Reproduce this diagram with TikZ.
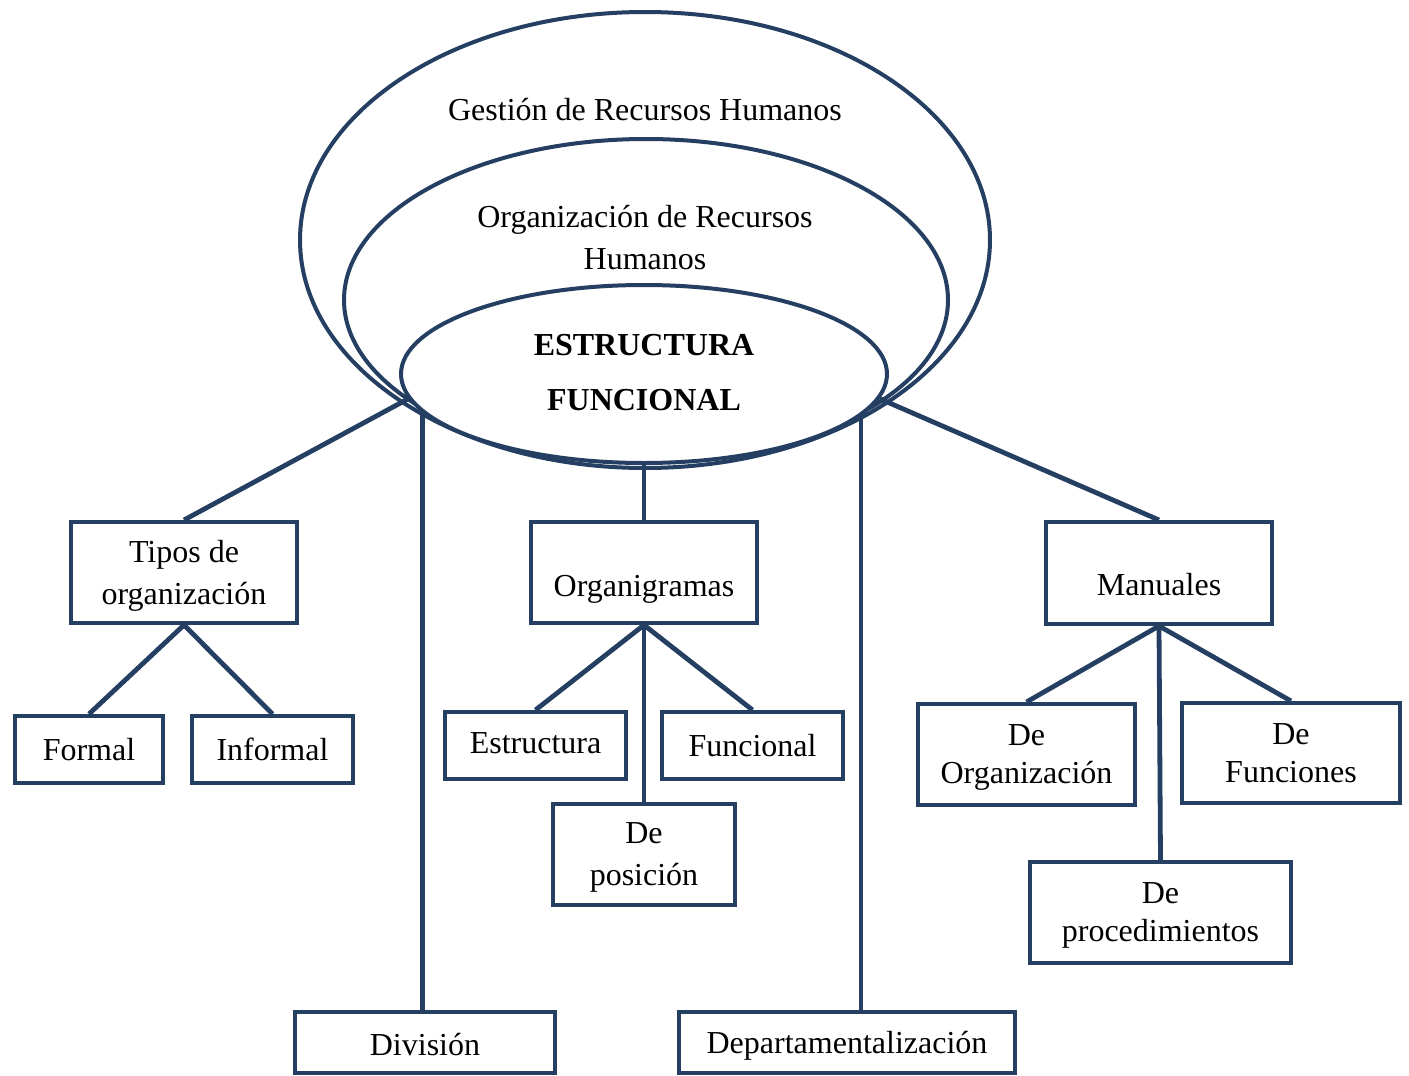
\documentclass[tikz,border=0pt]{standalone}
\usepackage{fontspec}
\setmainfont{Liberation Serif}
\usetikzlibrary{shapes.geometric}
\definecolor{navy}{HTML}{243F62}
\begin{document}
\begin{tikzpicture}[x=0.5pt,y=-0.5pt,
  txt/.style={font=\fontsize{16pt}{21pt}\selectfont, align=center, inner sep=0pt},
  ring/.style={ellipse, draw=navy, line width=2pt, inner sep=0pt, fill=white},
  box/.style={rectangle, draw=navy, line width=2pt, fill=white, inner sep=0pt,
              align=center, text depth=0pt, font=\fontsize{16pt}{21pt}\selectfont},
  tight/.style={font=\fontsize{16pt}{19pt}\selectfont},
  link/.style={draw=navy, line width=2.4pt}]
\useasboundingbox (0,0) rectangle (1409,1076);

% nested ellipses
\node[ring, minimum width=345pt, minimum height=228pt] (gest) at (645,240) {};
\node[ring, minimum width=302pt, minimum height=161pt] (orgrh) at (646,300) {};
\node[ring, minimum width=243pt, minimum height=89pt, align=center,
      font=\fontsize{16pt}{27.5pt}\selectfont\bfseries] (core) at (644,374)
      {\raisebox{1.5pt}{ESTRUCTURA}\\\raisebox{1.5pt}{FUNCIONAL}};
\node[txt] (gestlbl) at (645,110) {Gestión de Recursos Humanos};
\node[txt] (orglbl) at (645,238) {Organización de Recursos\\Humanos};

% boxes
\node[box, minimum width=113pt, minimum height=50.5pt] (tipos) at (184,572.5) {Tipos de\\organización};
\node[box, minimum width=74pt, minimum height=33.5pt] (formal) at (89,749.5) {Formal};
\node[box, minimum width=80.5pt, minimum height=33.5pt] (informal) at (272.5,749.5) {Informal};

\node[box, minimum width=113pt, minimum height=50.5pt] (organi) at (644,572.5) {\raisebox{-6.5pt}[\height][\depth]{Organigramas}};
\node[box, minimum width=90.5pt, minimum height=33.5pt] (estr) at (535.5,745.5) {\raisebox{1pt}[\height][\depth]{Estructura}};
\node[box, minimum width=90.5pt, minimum height=33.5pt] (func) at (752.5,745.5) {Funcional};
\node[box, minimum width=91pt, minimum height=50.5pt] (posic) at (644,854.5) {De\\posición};

\node[box, minimum width=113pt, minimum height=51pt] (manu) at (1159,573) {\raisebox{-5.5pt}[\height][\depth]{Manuales}};
\node[box, tight, minimum width=108.5pt, minimum height=50.5pt] (deorg) at (1026.5,754.5) {De\\Organización};
\node[box, tight, minimum width=109pt, minimum height=50pt] (defun) at (1291,753) {De\\Funciones};
\node[box, tight, minimum width=130.5pt, minimum height=50.5pt] (deproc) at (1160.5,912.5) {De\\procedimientos};

\node[box, minimum width=130pt, minimum height=30.5pt] (divis) at (425,1042.5) {\raisebox{-1pt}[\height][\depth]{División}};
\node[box, minimum width=168pt, minimum height=30.5pt] (depto) at (847,1042.5) {Departamentalización};

% connectors
\draw[link] (core.186) -- (tipos.north);
\draw[link] (core.190.6) -- (core.190.6 |- divis.north);
\draw[link] (core.south) -- (organi.north);
\draw[link] (core.349.5) -- (core.349.5 |- depto.north);
\draw[link] (core.354) -- (manu.north);

\draw[link] (tipos.south) -- (formal.north);
\draw[link] (tipos.south) -- (informal.north);

\draw[link] (organi.south) -- (estr.north);
\draw[link] (organi.south) -- (func.north);
\draw[link] (organi.south) -- (posic.north);

\draw[link] (manu.south) -- (deorg.north);
\draw[link] (manu.south) -- (defun.north);
\draw[link] (manu.south) -- (deproc.north);
\end{tikzpicture}
\end{document}
